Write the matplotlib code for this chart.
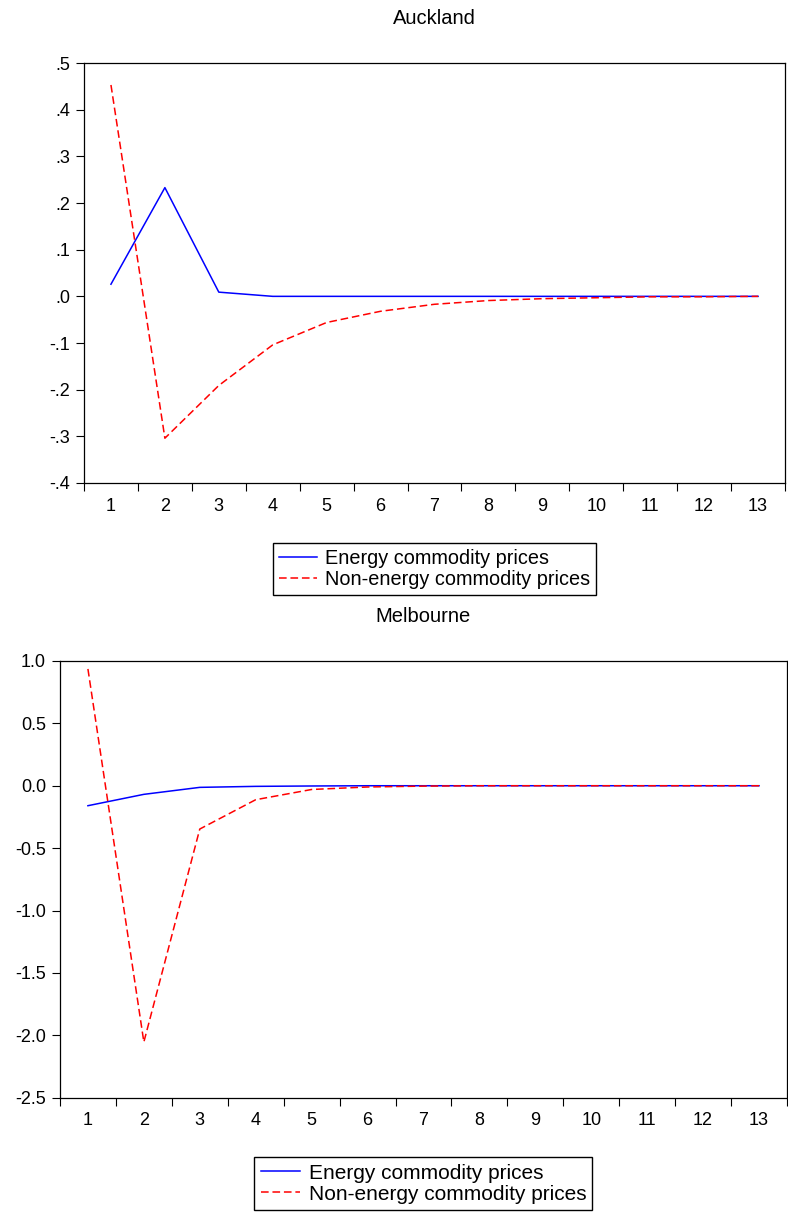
import matplotlib.pyplot as plt
import numpy as np
from matplotlib.ticker import FixedLocator, FuncFormatter

plt.rcParams['font.family'] = ['Liberation Sans', 'DejaVu Sans']

periods = np.arange(1, 14)

# Auckland
akl_energy = [0.026, 0.233, 0.009, 0.0, 0.0, 0.0, 0.0, 0.0, 0.0, 0.0, 0.0, 0.0, 0.0]
akl_non_energy = [0.453, -0.304, -0.191, -0.104, -0.056, -0.032, -0.017, -0.009,
                  -0.005, -0.003, -0.001, -0.001, 0.0]
akl_yticks = [-0.4, -0.3, -0.2, -0.1, 0.0, 0.1, 0.2, 0.3, 0.4, 0.5]

# Melbourne
mel_energy = [-0.16, -0.069, -0.013, -0.005, -0.002, 0.0, 0.0, 0.0, 0.0, 0.0, 0.0, 0.0, 0.0]
mel_non_energy = [0.936, -2.054, -0.347, -0.112, -0.03, -0.01, -0.003, 0.0,
                  0.0, 0.0, 0.0, 0.0, 0.0]
mel_yticks = [-2.5, -2.0, -1.5, -1.0, -0.5, 0.0, 0.5, 1.0]

labels = ['Energy commodity prices', 'Non-energy commodity prices']


def fmt_short(v, pos):
    # EViews style: .5, .0, -.4
    s = '%.1f' % v
    if s == '-0.0':
        s = '0.0'
    if s.startswith('0.'):
        s = s[1:]
    if s.startswith('-0.'):
        s = '-' + s[2:]
    return s


def draw(ax, energy, non_energy, yticks, title, fmt, legend_y, legend_fs):
    ax.plot(periods, energy, color='blue', lw=1.1, label=labels[0])
    ax.plot(periods, non_energy, color='red', lw=1.1, ls=(0, (5, 2.5)), label=labels[1])
    ax.set_xlim(0.5, 13.5)
    ax.set_ylim(yticks[0], yticks[-1])
    ax.set_yticks(yticks)
    ax.yaxis.set_major_formatter(FuncFormatter(fmt))
    ax.xaxis.set_major_locator(FixedLocator(np.arange(0.5, 14, 1)))
    ax.xaxis.set_major_formatter(FuncFormatter(lambda v, p: ''))
    ax.xaxis.set_minor_locator(FixedLocator(periods))
    ax.xaxis.set_minor_formatter(FuncFormatter(lambda v, p: '%d' % round(v)))
    ax.tick_params(axis='x', which='major', direction='out', length=5.8, width=0.8)
    ax.tick_params(axis='x', which='minor', length=0, pad=10.5, labelsize=13)
    ax.tick_params(axis='y', direction='out', length=5.8, width=0.8, labelsize=13, pad=4.3)
    for s in ax.spines.values():
        s.set_linewidth(0.9)
    ax.set_title(title, fontsize=14.5, pad=28)
    ax.legend(loc='upper center', bbox_to_anchor=(0.5, legend_y), fontsize=legend_fs,
              frameon=True, fancybox=False, edgecolor='black', framealpha=1,
              handlelength=1.9, handletextpad=0.4, borderpad=0.3, labelspacing=0.1)


fig = plt.figure(figsize=(7.88, 12.24), dpi=100)

ax1 = fig.add_axes([0.1066, 0.6054, 0.8896, 0.3431])
draw(ax1, akl_energy, akl_non_energy, akl_yticks, 'Auckland', fmt_short, -0.119, 14.3)

ax2 = fig.add_axes([0.0761, 0.1032, 0.9226, 0.3568])
draw(ax2, mel_energy, mel_non_energy, mel_yticks, 'Melbourne',
     lambda v, p: '%.1f' % v, -0.113, 15)

fig.savefig('out.png', dpi=100)
